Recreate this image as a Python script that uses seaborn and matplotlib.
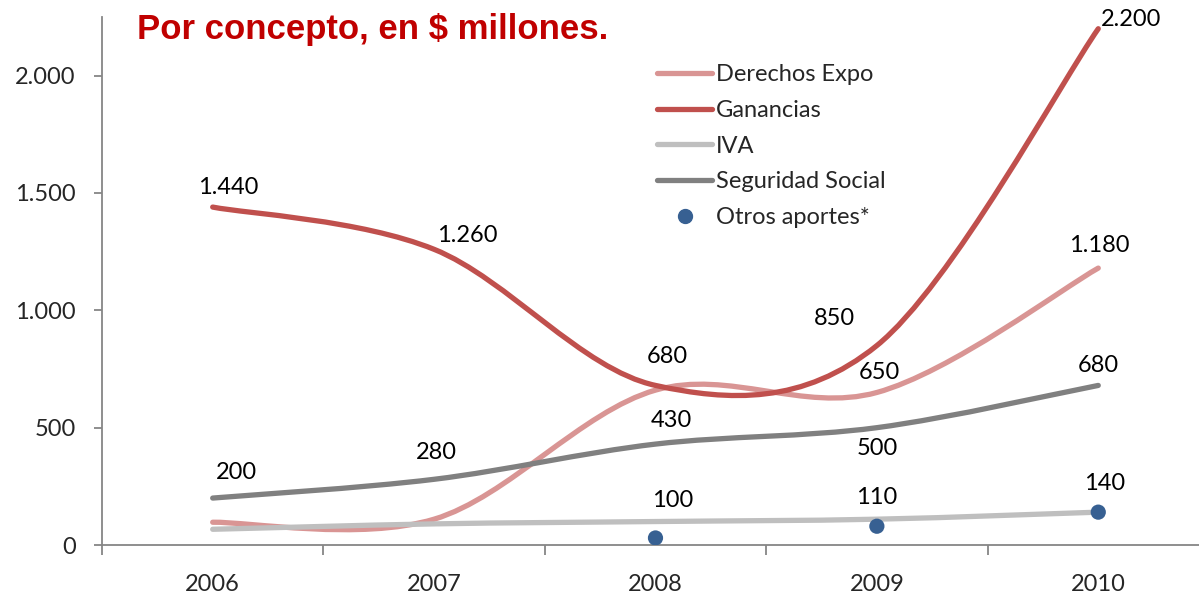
import seaborn as sns
import matplotlib.pyplot as plt
import pandas as pd
from matplotlib.path import Path
from matplotlib.patches import PathPatch
from matplotlib.lines import Line2D
from matplotlib.ticker import FuncFormatter, MultipleLocator, FixedLocator

# datos
anios = ['2006', '2007', '2008', '2009', '2010']
derechos_expo = [97, 110, 660, 650, 1180]
ganancias = [1440, 1260, 680, 850, 2200]
iva = [67, 90, 100, 110, 140]
seguridad_social = [200, 280, 430, 500, 680]
otros_aportes = [None, None, 30, 80, 140]

# etiquetas visibles (indice del anio) por serie
etiquetas_ganancias = [0, 1, 2, 3, 4]
etiquetas_derechos = [3, 4]
etiquetas_ss = [0, 1, 2, 3, 4]
etiquetas_iva = [2, 3, 4]

colores = {
    'Derechos Expo': '#D99594',
    'Ganancias': '#C0504D',
    'IVA': '#BFBFBF',
    'Seguridad Social': '#808080',
    'Otros aportes*': '#376092',
}

series = {
    'Derechos Expo': derechos_expo,
    'Ganancias': ganancias,
    'IVA': iva,
    'Seguridad Social': seguridad_social,
}

sns.set_style('white')
plt.rcParams['font.family'] = ['Lato', 'DejaVu Sans']
TAM = 17

fig = plt.figure(figsize=(11.99, 5.96), dpi=100)
ax = fig.add_axes([102 / 1199, 51 / 596, 1097 / 1199, 528 / 596])


def curva_suave(ys):
    # bezier tipo Excel (catmull-rom)
    xs = list(range(len(ys)))
    pts = list(zip(xs, ys))
    n = len(pts)
    verts = [pts[0]]
    codes = [Path.MOVETO]
    for i in range(n - 1):
        p0 = pts[max(i - 1, 0)]
        p1 = pts[i]
        p2 = pts[i + 1]
        p3 = pts[min(i + 2, n - 1)]
        c1 = (p1[0] + (p2[0] - p0[0]) / 6, p1[1] + (p2[1] - p0[1]) / 6)
        c2 = (p2[0] - (p3[0] - p1[0]) / 6, p2[1] - (p3[1] - p1[1]) / 6)
        verts += [c1, c2, p2]
        codes += [Path.CURVE4] * 3
    return Path(verts, codes)


for nombre, valores in series.items():
    patch = PathPatch(curva_suave(valores), facecolor='none', edgecolor=colores[nombre],
                      lw=3.8, capstyle='round', joinstyle='round', zorder=3)
    ax.add_patch(patch)

df_otros = pd.DataFrame({'x': range(len(anios)), 'y': otros_aportes}).dropna()
sns.scatterplot(data=df_otros, x='x', y='y', ax=ax, color=colores['Otros aportes*'],
                s=120, edgecolor='none', zorder=4, legend=False)


def fmt(v):
    return f'{v:,.0f}'.replace(',', '.')


desplaz = {
    'Ganancias': [(16, 20), (33, 14), (12, 29), (-42, 27), (33, 9)],
    'Derechos Expo': [(0, 20), (0, 20), (0, 20), (3, 20), (1, 23)],
    'Seguridad Social': [(24, 26), (2, 27), (16, 24), (0, -21), (0, 20)],
    'IVA': [(0, 20), (0, 20), (17, 21), (0, 22), (6, 29)],
}
visibles = {
    'Ganancias': etiquetas_ganancias,
    'Derechos Expo': etiquetas_derechos,
    'Seguridad Social': etiquetas_ss,
    'IVA': etiquetas_iva,
}
for nombre, idx in visibles.items():
    for i in idx:
        dx, dy = desplaz[nombre][i]
        ax.annotate(fmt(series[nombre][i]), (i, series[nombre][i]),
                    xytext=(dx * 0.72, dy * 0.72), textcoords='offset points',
                    ha='center', va='center', fontsize=TAM, color='black', zorder=5)

ax.set_xlim(-0.5, 4.455)
ax.set_ylim(0, 2250)
ax.set_xlabel('')
ax.set_ylabel('')

ax.xaxis.set_major_locator(FixedLocator(range(len(anios))))
ax.set_xticklabels(anios)
ax.xaxis.set_minor_locator(FixedLocator([-0.5, 0.5, 1.5, 2.5, 3.5, 4.5]))
ax.tick_params(axis='x', which='major', length=0, pad=21, labelsize=TAM)
ax.tick_params(axis='x', which='minor', length=7, width=1.3, color='#868686', direction='out', bottom=True)
ax.yaxis.set_major_locator(MultipleLocator(500))
ax.yaxis.set_major_formatter(FuncFormatter(lambda v, p: fmt(v)))
ax.tick_params(axis='y', which='major', length=6, width=1.3, color='#868686', direction='out',
               left=True, pad=13, labelsize=TAM)

for lado in ['top', 'right']:
    ax.spines[lado].set_visible(False)
for lado in ['left', 'bottom']:
    ax.spines[lado].set_color('#868686')
    ax.spines[lado].set_linewidth(1.3)

handles = [Line2D([0], [0], color=colores[n], lw=3.8, solid_capstyle='round') for n in series]
handles.append(Line2D([0], [0], color=colores['Otros aportes*'], lw=0, marker='o', markersize=10))
leg = fig.legend(handles, list(series) + ['Otros aportes*'], loc='upper left',
                 bbox_to_anchor=(648 / 1199, 1 - 55 / 596), frameon=False, fontsize=TAM,
                 handlelength=2.3, handletextpad=0.17, labelspacing=0.62, borderaxespad=0)

fig.text(137 / 1199, 1 - 29 / 596, 'Por concepto, en $ millones.', color='#C00000',
         fontsize=25, fontweight='bold', family=['Liberation Sans', 'DejaVu Sans'],
         ha='left', va='center')

plt.savefig('out.png', dpi=100)
